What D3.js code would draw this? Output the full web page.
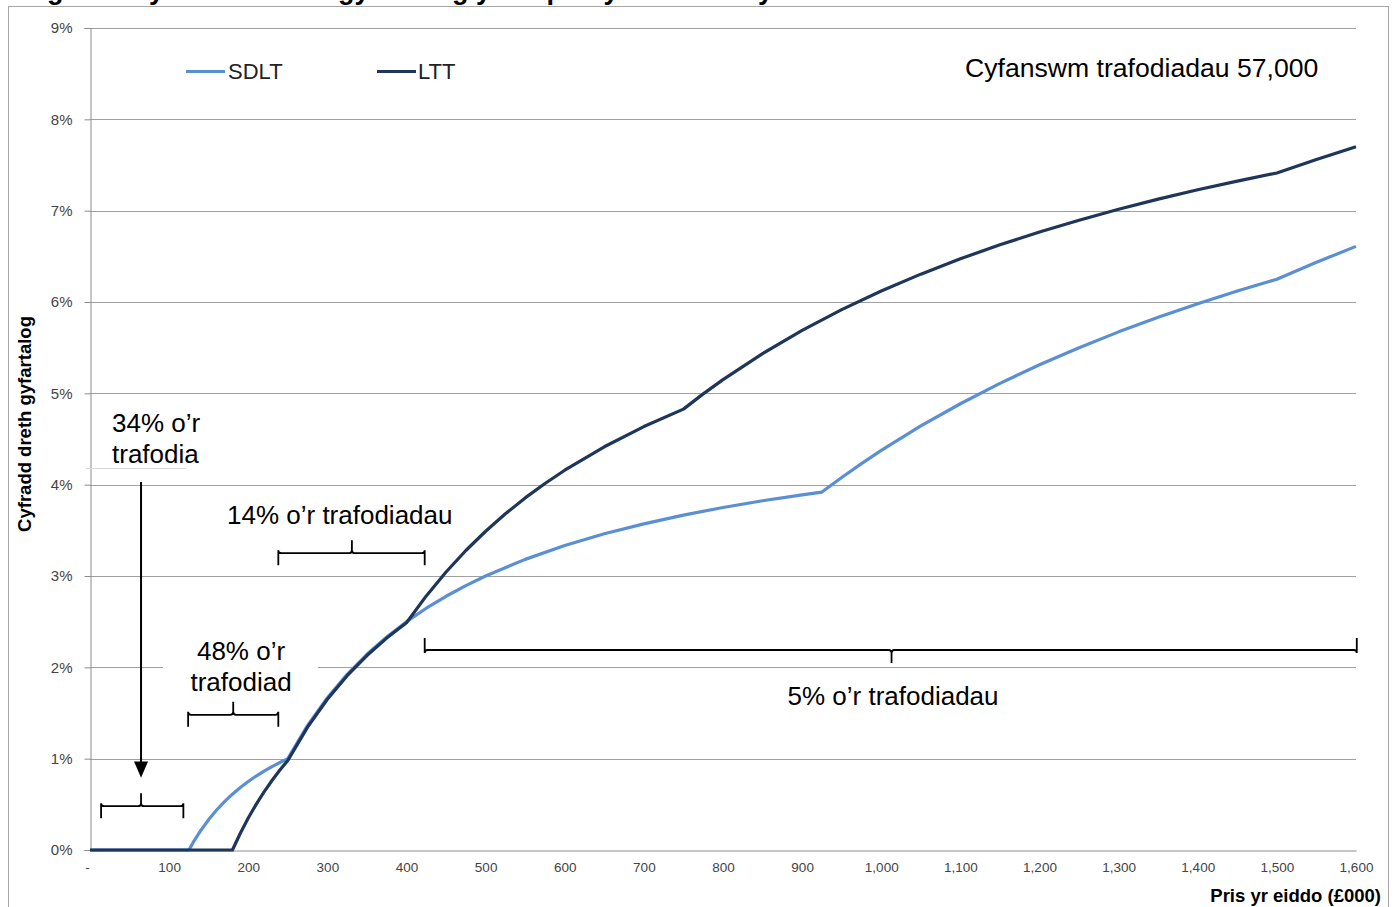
<!DOCTYPE html>
<html><head><meta charset="utf-8">
<script src="https://cdn.jsdelivr.net/npm/d3@7"></script>
<style>body{margin:0;background:#fff;overflow:hidden}svg{display:block;font-family:"Liberation Sans",Arial,sans-serif}</style>
</head><body>
<script>
// Prices (£000) and average effective rates (%)
const pricesSDLT = [0,125,130,140,150,160,170,180,190,200,210,220,230,240,250,275,300,325,350,375,400,425,450,475,500,550,600,650,700,750,800,850,900,925,950,975,1000,1050,1100,1150,1200,1250,1300,1350,1400,1450,1500,1550,1600];
const ratesSDLT  = [0,0,0.077,0.214,0.333,0.438,0.529,0.611,0.684,0.75,0.81,0.864,0.913,0.958,1.0,1.364,1.667,1.923,2.143,2.333,2.5,2.647,2.778,2.895,3.0,3.182,3.333,3.462,3.571,3.667,3.75,3.824,3.889,3.919,4.079,4.231,4.375,4.643,4.886,5.109,5.313,5.5,5.673,5.833,5.982,6.121,6.25,6.435,6.609];
const pricesLTT  = [0,180,190,200,210,220,230,240,250,275,300,325,350,375,400,425,450,475,500,525,550,575,600,650,700,750,775,800,850,900,950,1000,1050,1100,1150,1200,1250,1300,1350,1400,1450,1500,1550,1600];
const ratesLTT   = [0,0,0.184,0.35,0.5,0.636,0.761,0.875,0.98,1.345,1.65,1.908,2.129,2.32,2.488,2.782,3.044,3.279,3.49,3.681,3.855,4.013,4.158,4.415,4.636,4.827,4.994,5.15,5.435,5.689,5.916,6.12,6.305,6.473,6.626,6.767,6.896,7.015,7.126,7.229,7.324,7.413,7.561,7.7];
const seriesNames = ["SDLT","LTT"];
const xTicks = [0,100,200,300,400,500,600,700,800,900,1000,1100,1200,1300,1400,1500,1600];
const yTicks = [0,1,2,3,4,5,6,7,8,9];
// annotation braces: [startPrice, endPrice, rate level, notch price, direction]
const braceStart = [14,124,238,423];
const braceEnd   = [118,238,423,1601];
const braceLevel = [0.48,1.48,3.25,2.19];
const braceNotch = [64.5,181,331,1013];
const braceDir   = [-1,-1,-1,1];

const W=1394,H=907;
const svg=d3.select("body").append("svg").attr("width",W).attr("height",H);
const x=d3.scaleLinear().domain([0,1600]).range([90,1356]);
const y=d3.scaleLinear().domain([0,9]).range([850,28]);

// clipped title (cut off at the top edge, as in the reference)
svg.append("text").attr("x",14).attr("y",-1).attr("font-weight","bold").attr("font-size",27)
  .text("Ffigur 6: Cyfraddau treth gyfartalog yn ôl pris yr eiddo – Cymru");
// frame
svg.append("rect").attr("x",8.5).attr("y",6.5).attr("width",1380).attr("height",940)
  .attr("fill","none").attr("stroke","#a6a6a6");

// gridlines
svg.append("g").selectAll("line").data(yTicks.filter(d=>d>0)).join("line")
  .attr("x1",90).attr("x2",1356).attr("y1",d=>Math.round(y(d))+0.5).attr("y2",d=>Math.round(y(d))+0.5)
  .attr("stroke","#a0a0a0").attr("stroke-width",1);

// y axis
const ya=svg.append("g").attr("transform","translate(90.5,0)")
  .call(d3.axisLeft(y).tickValues(yTicks).tickFormat(d=>d+"%").tickSize(6).tickPadding(12));
ya.attr("font-size",null).attr("font-family",null);
ya.select(".domain").attr("stroke","#8c8c8c");
ya.selectAll(".tick line").attr("stroke","#8c8c8c");
ya.selectAll("text").style("font-size","15px").attr("fill","#444");
// x axis
const xa=svg.append("g").attr("transform","translate(0,850.5)")
  .call(d3.axisBottom(x).tickValues(xTicks).tickFormat(d=>d===0?"-":d3.format(",")(d)).tickSize(0).tickPadding(12));
xa.attr("font-size",null).attr("font-family",null);
xa.select(".domain").attr("stroke","#8c8c8c");
xa.selectAll("text").style("font-size","13.5px").attr("fill","#444");
xa.selectAll(".tick").filter(d=>d===0).select("text").attr("dx",-3);

// axis titles
svg.append("text").attr("transform","translate(31,424) rotate(-90)").attr("text-anchor","middle")
  .attr("font-weight","bold").attr("font-size",18.5).text("Cyfradd dreth gyfartalog");
svg.append("text").attr("x",1381).attr("y",902).attr("text-anchor","end")
  .attr("font-weight","bold").attr("font-size",18.5).text("Pris yr eiddo (£000)");

// text box artefacts
svg.append("rect").attr("x",163).attr("y",640).attr("width",155).attr("height",58).attr("fill","#fff");
svg.append("line").attr("x1",86).attr("x2",186).attr("y1",468.5).attr("y2",468.5).attr("stroke","#d8d8d8");

// lines
const line=d3.line().x(d=>x(d[0])).y(d=>y(d[1]));
const colors=["#5b8fd5","#1d365a"];
const dataS=[d3.zip(pricesSDLT,ratesSDLT), d3.zip(pricesLTT,ratesLTT)];
svg.append("g").selectAll("path").data(dataS).join("path")
  .attr("d",line).attr("fill","none").attr("stroke",(d,i)=>colors[i]).attr("stroke-width",3.2)
  .attr("stroke-linejoin","round");

// legend
const lg=[[186,228],[377,418]];
seriesNames.forEach((n,i)=>{
  svg.append("line").attr("x1",lg[i][0]).attr("x2",lg[i][0]+39).attr("y1",71.5).attr("y2",71.5)
    .attr("stroke",colors[i]).attr("stroke-width",3);
  svg.append("text").attr("x",lg[i][1]).attr("y",79).attr("font-size",22).attr("fill","#222").text(n);
});

// annotations text
const ann=[
  ["Cyfanswm trafodiadau 57,000",965,77,"start",26.6],
  ["34% o’r",112,432,"start",26],["trafodia",112,463,"start",26],
  ["14% o’r trafodiadau",227,524,"start",26],
  ["48% o’r",241,660,"middle",26],["trafodiad",241,691,"middle",26],
  ["5% o’r trafodiadau",893,705,"middle",26]
];
svg.append("g").selectAll("text").data(ann).join("text")
  .attr("x",d=>d[1]).attr("y",d=>d[2]).attr("text-anchor",d=>d[3])
  .attr("font-size",d=>d[4]).attr("fill","#000").text(d=>d[0]);

// braces
function brace(x1,x2,yl,xm,dir){
  const a=12, n=13, r=3;
  const ye=yl-dir*a;
  return `M${x1},${ye} L${x1},${yl+dir*r} Q${x1},${yl} ${x1+r},${yl} L${xm-r},${yl} Q${xm},${yl} ${xm},${yl+dir*r} L${xm},${yl+dir*n}`+
         ` M${xm},${yl+dir*r} Q${xm},${yl} ${xm+r},${yl} L${x2-r},${yl} Q${x2},${yl} ${x2},${yl+dir*r} L${x2},${ye}`;
}
svg.append("g").selectAll("path").data(d3.range(braceStart.length)).join("path")
  .attr("d",i=>brace(x(braceStart[i]),x(braceEnd[i]),y(braceLevel[i]),x(braceNotch[i]),braceDir[i]))
  .attr("fill","none").attr("stroke","#000").attr("stroke-width",1.8);

// arrow
const ax=x(64.5);
svg.append("line").attr("x1",ax).attr("x2",ax).attr("y1",y(4.03)).attr("y2",y(0.95)).attr("stroke","#000").attr("stroke-width",2);
svg.append("path").attr("d",`M${ax-7},${y(0.97)} L${ax+7},${y(0.97)} L${ax},${y(0.79)} Z`).attr("fill","#000");
</script>
</body></html>
